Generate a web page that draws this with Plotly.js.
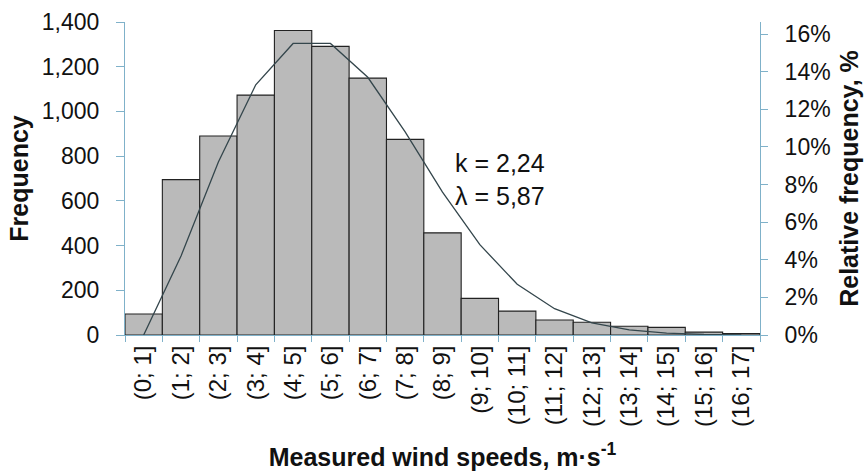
<!DOCTYPE html>
<html>
<head>
<meta charset="utf-8">
<script src="https://cdn.plot.ly/plotly-3.0.1.min.js"></script>
<style>html,body{margin:0;padding:0;background:#fff;}#chart{width:864px;height:471px;}</style>
</head>
<body>
<div id="chart"></div>
<script>
const categories = ["(0; 1]","(1; 2]","(2; 3]","(3; 4]","(4; 5]","(5; 6]","(6; 7]","(7; 8]","(8; 9]","(9; 10]","(10; 11]","(11; 12]","(12; 13]","(13; 14]","(14; 15]","(15; 16]","(16; 17]"];
const frequency = [94, 695, 890, 1073, 1362, 1291, 1149, 875, 457, 164, 107, 67, 57, 39, 34, 13, 7];
const weibullRel = [0, 0.042, 0.092, 0.133, 0.155, 0.155, 0.137, 0.108, 0.076, 0.048, 0.027, 0.014, 0.0065, 0.0027, 0.001, 0.0003, 0.0001];
const annotationText = "k = 2,24<br>λ = 5,87";

const axisColor = "#7fb1c9";
const font = "Liberation Sans, Arial, sans-serif";

const traces = [
  {
    type: "bar",
    x: categories,
    y: frequency,
    marker: {color: "#bababa", line: {color: "#222", width: 1.1}},
    hoverinfo: "skip"
  },
  {
    type: "scatter",
    mode: "lines",
    x: categories,
    y: weibullRel,
    yaxis: "y2",
    line: {color: "#34464c", width: 1.3},
    hoverinfo: "skip"
  }
];

const layout = {
  width: 864, height: 471,
  margin: {l: 125, r: 104, t: 22, b: 136},
  paper_bgcolor: "#fff", plot_bgcolor: "#fff",
  showlegend: false,
  bargap: 0,
  font: {family: font, color: "#111", size: 23},
  xaxis: {
    type: "category",
    tickangle: -90,
    ticks: "outside", ticklen: 6, tickcolor: axisColor, tickson: "boundaries",
    showline: true, linecolor: axisColor, linewidth: 1,
    showgrid: false, zeroline: false,
    tickfont: {family: font, size: 24, color: "#111"},
    automargin: false,
    title: {text: "<b>Measured wind speeds, m·s<sup>-1</sup></b>", font: {family: font, size: 25, color: "#111"}, standoff: 22}
  },
  yaxis: {
    range: [0, 1400], dtick: 200, tickformat: ",",
    ticks: "outside", ticklen: 8, tickcolor: axisColor,
    showline: true, linecolor: axisColor, linewidth: 1,
    showgrid: false, zeroline: false,
    ticklabelstandoff: 12,
    tickfont: {family: font, size: 23, color: "#111"},
    automargin: false,
    title: {text: "<b>Frequency</b>", font: {family: font, size: 25, color: "#111"}, standoff: 6}
  },
  yaxis2: {
    overlaying: "y", side: "right",
    range: [0, 0.1664], dtick: 0.02, tickformat: ".0%",
    ticks: "outside", ticklen: 7, tickcolor: axisColor,
    showline: true, linecolor: axisColor, linewidth: 1,
    showgrid: false, zeroline: false,
    ticklabelstandoff: 12,
    tickfont: {family: font, size: 23, color: "#111"},
    automargin: false,
    title: {text: "<b>Relative frequency, %</b>", font: {family: font, size: 25, color: "#111"}, standoff: 10}
  },
  annotations: [{
    xref: "paper", yref: "paper",
    x: 0.517, y: 0.498, xanchor: "left", yanchor: "middle",
    text: annotationText, showarrow: false, align: "left",
    font: {family: font, size: 25, color: "#111"}
  }]
};

Plotly.newPlot("chart", traces, layout, {staticPlot: true, displayModeBar: false});
</script>
</body>
</html>
